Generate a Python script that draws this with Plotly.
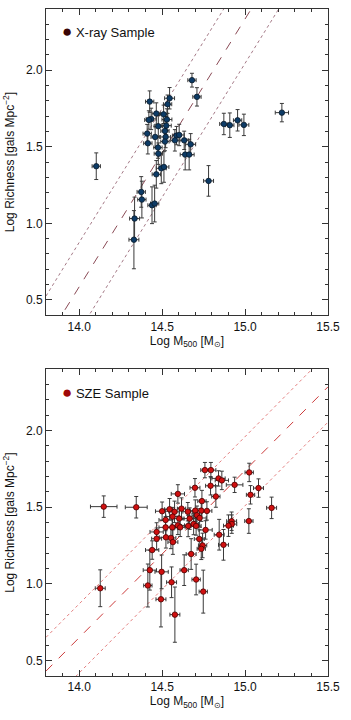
import plotly.graph_objects as go
from plotly.subplots import make_subplots

# X-ray sample
xray_mass = [
    14.680, 14.710, 14.425, 14.545, 14.533, 14.465, 14.509, 14.434, 14.420, 14.529,
    14.477, 14.525, 14.517, 14.410, 14.458, 14.521, 14.587, 14.603, 14.633, 14.577,
    14.672, 14.414, 14.517, 14.475, 14.477, 14.639, 14.663, 14.495, 14.511, 14.465,
    14.103, 14.780, 14.374, 14.378, 14.439, 14.455, 14.334, 14.330, 14.872, 14.908,
    14.955, 14.993, 15.222,
]
xray_richness = [
    1.935, 1.826, 1.795, 1.817, 1.778, 1.717, 1.712, 1.682, 1.675, 1.678,
    1.634, 1.638, 1.603, 1.586, 1.564, 1.564, 1.573, 1.577, 1.542, 1.542,
    1.516, 1.523, 1.534, 1.495, 1.455, 1.449, 1.449, 1.359, 1.368, 1.320,
    1.373, 1.277, 1.205, 1.155, 1.118, 1.129, 1.031, 0.893, 1.649, 1.641,
    1.673, 1.643, 1.723,
]
xray_mass_err = [
    0.025, 0.025, 0.025, 0.030, 0.025, 0.025, 0.025, 0.030, 0.025, 0.030,
    0.025, 0.030, 0.025, 0.025, 0.025, 0.030, 0.025, 0.030, 0.025, 0.025,
    0.030, 0.025, 0.025, 0.025, 0.025, 0.030, 0.030, 0.030, 0.030, 0.025,
    0.025, 0.030, 0.025, 0.025, 0.025, 0.025, 0.030, 0.030, 0.025, 0.025,
    0.025, 0.030, 0.040,
]
xray_richness_err = [
    0.045, 0.060, 0.070, 0.070, 0.060, 0.070, 0.060, 0.070, 0.060, 0.070,
    0.070, 0.060, 0.070, 0.060, 0.070, 0.070, 0.060, 0.070, 0.060, 0.070,
    0.070, 0.070, 0.060, 0.070, 0.070, 0.100, 0.100, 0.100, 0.100, 0.090,
    0.087, 0.100, 0.100, 0.120, 0.120, 0.120, 0.140, 0.190, 0.070, 0.080,
    0.070, 0.070, 0.060,
]

# SZE sample
sze_mass = [
    14.148, 14.344, 14.127, 14.758, 14.794, 14.840, 14.860, 14.937, 14.698, 14.792,
    14.595, 14.824, 14.740, 14.545, 14.500, 14.575, 14.617, 14.655, 14.700, 14.736,
    14.770, 14.521, 14.563, 14.603, 14.666, 14.710, 14.726, 14.690, 14.595, 14.561,
    14.521, 14.609, 14.657, 14.705, 14.762, 14.467, 14.467, 14.523, 14.553, 14.565,
    14.724, 14.744, 14.736, 14.844, 14.870, 14.919, 14.920, 14.900, 14.440, 14.675,
    14.426, 14.497, 14.633, 14.705, 14.557, 14.414, 14.748, 14.493, 14.577, 15.025,
    15.081, 15.033, 15.160, 15.023,
]
sze_richness = [
    1.504, 1.500, 0.972, 1.742, 1.742, 1.688, 1.675, 1.646, 1.627, 1.640,
    1.587, 1.570, 1.540, 1.487, 1.474, 1.470, 1.491, 1.471, 1.478, 1.478,
    1.476, 1.417, 1.439, 1.426, 1.426, 1.448, 1.430, 1.391, 1.382, 1.369,
    1.369, 1.369, 1.378, 1.378, 1.352, 1.339, 1.295, 1.304, 1.300, 1.273,
    1.293, 1.251, 1.229, 1.321, 1.255, 1.409, 1.390, 1.380, 1.221, 1.195,
    1.090, 1.079, 1.090, 1.029, 1.011, 0.990, 0.950, 0.900, 0.800, 1.727,
    1.625, 1.581, 1.496, 1.410,
]
sze_mass_err = [
    0.080, 0.066, 0.030, 0.025, 0.030, 0.040, 0.040, 0.050, 0.030, 0.030,
    0.040, 0.025, 0.025, 0.030, 0.040, 0.030, 0.025, 0.030, 0.030, 0.040,
    0.030, 0.040, 0.040, 0.030, 0.040, 0.030, 0.040, 0.030, 0.040, 0.030,
    0.040, 0.030, 0.040, 0.030, 0.040, 0.040, 0.030, 0.040, 0.030, 0.030,
    0.030, 0.025, 0.025, 0.030, 0.030, 0.030, 0.030, 0.030, 0.040, 0.030,
    0.040, 0.040, 0.025, 0.025, 0.030, 0.025, 0.025, 0.030, 0.030, 0.025,
    0.030, 0.025, 0.030, 0.025,
]
sze_richness_err = [
    0.070, 0.070, 0.120, 0.050, 0.050, 0.050, 0.060, 0.050, 0.060, 0.060,
    0.060, 0.070, 0.070, 0.070, 0.060, 0.070, 0.070, 0.060, 0.070, 0.070,
    0.060, 0.070, 0.060, 0.070, 0.070, 0.060, 0.060, 0.070, 0.060, 0.070,
    0.070, 0.060, 0.070, 0.060, 0.060, 0.060, 0.070, 0.070, 0.070, 0.080,
    0.060, 0.080, 0.070, 0.100, 0.100, 0.060, 0.060, 0.070, 0.060, 0.100,
    0.130, 0.110, 0.100, 0.100, 0.100, 0.140, 0.140, 0.180, 0.180, 0.060,
    0.060, 0.060, 0.070, 0.080,
]

# scaling relations: richness = intercept + slope * (mass - pivot), +/- scatter
pivot = 14.5
xray_fit = {"intercept": 1.46, "slope": 1.75, "upper": 0.29, "lower": 0.29}
sze_fit = {"intercept": 1.195, "slope": 1.09, "upper": 0.22, "lower": 0.23}

mass_range = [13.8, 15.5]
richness_range = [0.4, 2.4]
mass_ticks = [14.0, 14.5, 15.0, 15.5]
richness_ticks = [0.5, 1.0, 1.5, 2.0]

FONT = "Liberation Sans, Arial, Helvetica, sans-serif"


def add_sample(figure, row, mass, richness, mass_err, richness_err, fill, edge):
    """
    Add one sample with error bars to a panel.
    """
    figure.add_trace(
        go.Scatter(
            x=mass,
            y=richness,
            mode="markers",
            error_x=dict(type="data", array=mass_err, color="#3a3a3a",
                         thickness=1, width=2),
            error_y=dict(type="data", array=richness_err, color="#3a3a3a",
                         thickness=1, width=2),
            marker=dict(size=5.5, color=fill, line=dict(color=edge, width=0.8)),
            showlegend=False,
        ),
        row=row,
        col=1,
    )


def add_relation(figure, row, fit, dash_color, dot_color):
    """
    Add the best-fit line and its scatter bounds.
    """
    def line(offset):
        return [
            fit["intercept"] + offset + fit["slope"] * (m - pivot)
            for m in mass_range
        ]

    for offset, color, dash, width in [
        (fit["upper"], dot_color, "dot", 0.9),
        (0.0, dash_color, "dash", 1.0),
        (-fit["lower"], dot_color, "dot", 0.9),
    ]:
        figure.add_trace(
            go.Scatter(
                x=mass_range,
                y=line(offset),
                mode="lines",
                line=dict(color=color, dash=dash, width=width),
                showlegend=False,
                hoverinfo="skip",
            ),
            row=row,
            col=1,
        )


figure = make_subplots(rows=2, cols=1, vertical_spacing=0.081)

add_relation(figure, 1, xray_fit, "#8a4a55", "#9a6a78")
add_sample(figure, 1, xray_mass, xray_richness, xray_mass_err,
           xray_richness_err, "#0d3b66", "#0a1a2a")

add_relation(figure, 2, sze_fit, "#cc3b3b", "#e07070")
add_sample(figure, 2, sze_mass, sze_richness, sze_mass_err,
           sze_richness_err, "#d01010", "#4a0000")

axis_style = dict(
    showline=True,
    linecolor="#333",
    linewidth=1,
    mirror="ticks",
    ticks="inside",
    ticklen=6,
    tickcolor="#333",
    showgrid=False,
    zeroline=False,
    tickfont=dict(size=12, color="#111"),
    minor=dict(ticks="inside", ticklen=3, tickcolor="#333", dtick=0.1),
)

for row in (1, 2):
    figure.update_xaxes(
        range=mass_range,
        tickvals=mass_ticks,
        ticktext=[f"{v:.1f}" for v in mass_ticks],
        title=dict(text="Log M<sub>500</sub> [M<sub>⊙</sub>]",
                   font=dict(size=12, color="#111"), standoff=2),
        row=row,
        col=1,
        **axis_style,
    )
    figure.update_yaxes(
        range=richness_range,
        tickvals=richness_ticks,
        ticktext=[f"{v:.1f}" for v in richness_ticks],
        title=dict(text="Log Richness [gals Mpc<sup>−2</sup>]",
                   font=dict(size=12, color="#111"), standoff=8),
        row=row,
        col=1,
        **axis_style,
    )

figure.update_layout(
    width=351,
    height=720,
    margin=dict(l=46, r=23, t=9, b=44),
    plot_bgcolor="white",
    paper_bgcolor="white",
    font=dict(family=FONT, size=12, color="#111"),
)

figure.update_yaxes(domain=[0.541, 1.0], row=1, col=1)
figure.update_yaxes(domain=[0.0, 0.46], row=2, col=1)

for row, label, color in [(1, "X-ray Sample", "#3a0505"),
                          (2, "SZE Sample", "#a00808")]:
    axis = "" if row == 1 else "2"
    figure.add_annotation(
        x=0.05,
        y=0.925,
        xref=f"x{axis} domain",
        yref=f"y{axis} domain",
        xanchor="left",
        yanchor="middle",
        showarrow=False,
        text=(f"<span style='color:{color};font-size:17px'>●</span>"
              f" {label}"),
        font=dict(size=13, color="#111"),
    )

# the page's default body margin would shift the fixed-size figure
figure.write_html(
    "out.html",
    config={"displayModeBar": False},
    post_script="document.body.style.margin = '0';",
)
